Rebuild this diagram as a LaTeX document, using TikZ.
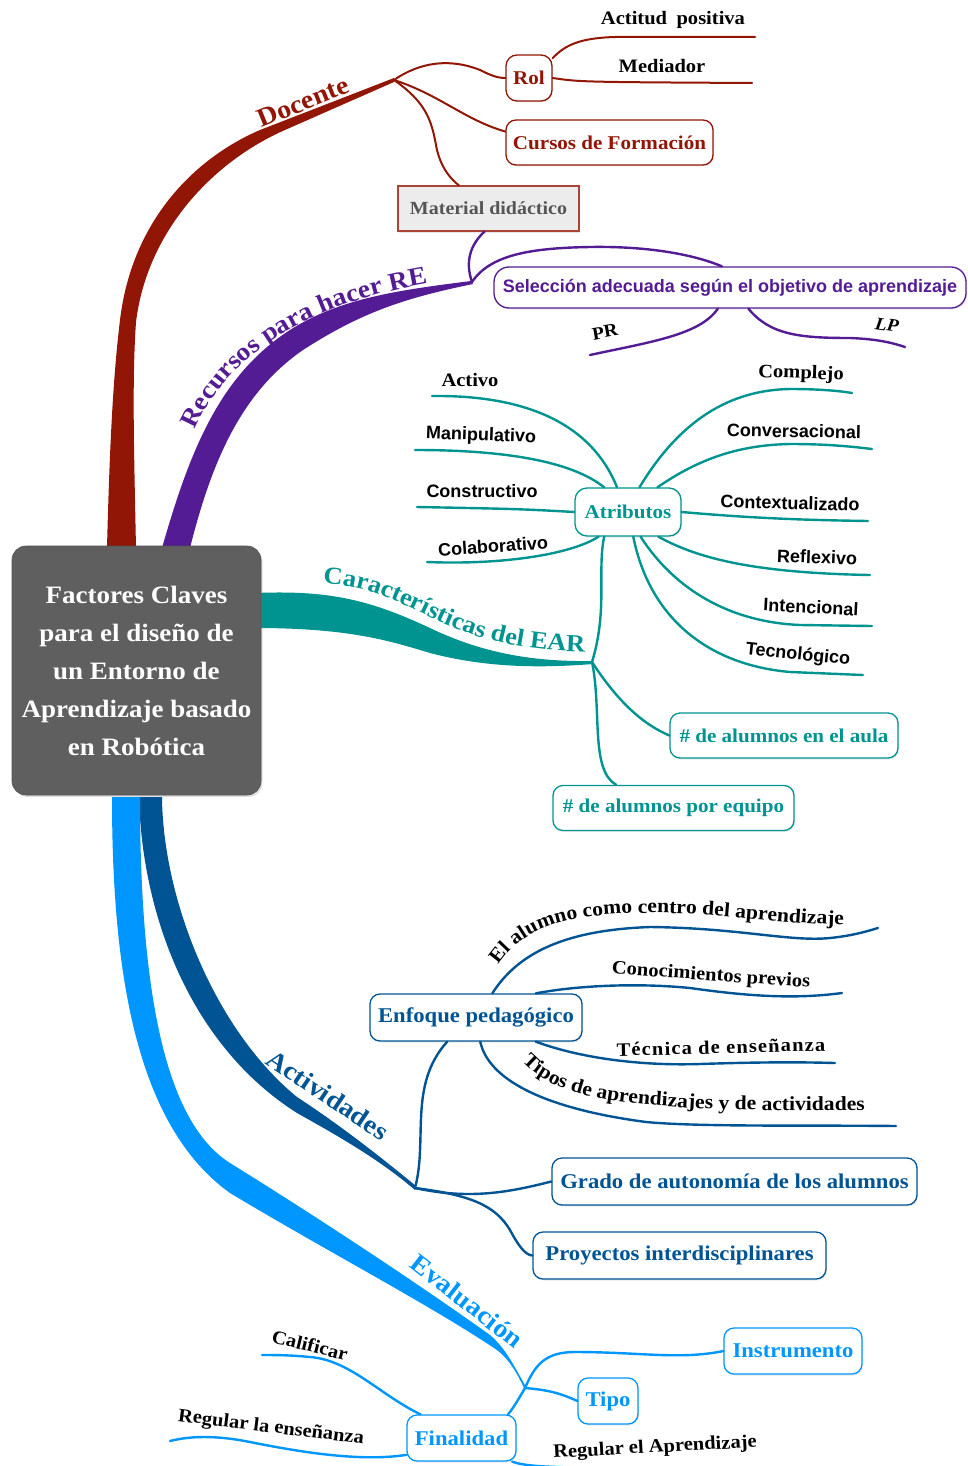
\documentclass[tikz,border=0pt]{standalone}
\usepackage{fontspec}
\newfontfamily\cf{Liberation Serif}[FakeStretch=1.08]
\newfontfamily\hv{Liberation Sans}
\usetikzlibrary{decorations.text,shadows}
\pgfdeclarelayer{bands}
\pgfsetlayers{bands,main}

\definecolor{docred}{RGB}{146,22,6}
\definecolor{recpur}{RGB}{84,28,148}
\definecolor{teal1}{RGB}{0,148,144}
\definecolor{actblue}{RGB}{0,84,148}
\definecolor{evblue}{RGB}{0,150,255}
\definecolor{rootgray}{RGB}{95,95,95}
\definecolor{matgray}{RGB}{236,236,236}
\definecolor{mattext}{RGB}{85,85,85}

\newcommand{\serifsz}[1]{\cf\bfseries\fontsize{#1}{#1}\selectfont}
\newcommand{\sanssz}[1]{\hv\bfseries\fontsize{#1}{#1}\selectfont}

\tikzset{
  nbox/.style={draw=#1, text=#1, fill=white, rounded corners=10pt, line width=1.3pt,
    inner sep=0pt, font={\serifsz{19.5}},
    drop shadow={opacity=0.18, shadow xshift=1pt, shadow yshift=-1.5pt}},
  leaf/.style={inner sep=0pt, text=black, font={\serifsz{19}}},
  sleaf/.style={inner sep=0pt, text=black, font={\sanssz{18}}},
  branchlabel/.style={inner sep=0pt, text=#1, font={\serifsz{26}}},
  twig/.style={draw=#1, line width=2.4pt, line cap=round},
}

\begin{document}
\begin{tikzpicture}[x=1pt, y=-1pt]
\useasboundingbox (0,0) rectangle (968,1466);

% ---------- central topic ----------
\node[fill=rootgray, draw=rootgray!85!black, line width=0.6pt, rounded corners=14pt,
      minimum width=249pt, minimum height=249pt, inner sep=0pt, align=center,
      text=white, font={\cf\bfseries\fontsize{25}{38}\selectfont},
      drop shadow={opacity=0.25, shadow xshift=1.5pt, shadow yshift=-2pt}]
  (root) at (136.5,670.5)
  {Factores Claves\\para el diseño de\\un Entorno de\\Aprendizaje basado\\en Robótica};

% ---------- main tapered branches ----------
\begin{pgfonlayer}{bands}
  % Docente
  \fill[docred] (107,548) .. controls (110,430) and (114,370) .. (120,320)
     .. controls (132,220) and (195,158) .. (260,130)
     -- (394,78) -- (394,82) -- (285,130) .. controls (212,162) and (147,232) .. (136,322)
     .. controls (132,380) and (134,450) .. (136,548) -- cycle;
  % Recursos para hacer RE
  \fill[recpur] (162,548) .. controls (190,450) and (220,375) .. (290,330)
     .. controls (340,298) and (400,290) .. (471,281) -- (473,284)
     .. controls (405,298) and (362,312) .. (303,350)
     .. controls (242,392) and (212,460) .. (190,548) -- cycle;
  % Caracteristicas del EAR
  \fill[teal1] (255,593) .. controls (330,590) and (370,600) .. (430,628)
     .. controls (480,652) and (530,662) .. (593,661) -- (593,664)
     .. controls (530,669) and (480,666) .. (430,653)
     .. controls (390,641) and (350,628) .. (255,628) -- cycle;
  % Actividades
  \fill[actblue] (139,797) .. controls (142,915) and (190,1045) .. (297,1113)
     .. controls (340,1137) and (380,1160) .. (415,1190) -- (416,1186)
     .. controls (382,1158) and (340,1125) .. (297,1097)
     .. controls (215,1030) and (163,900) .. (162,797) -- cycle;
  % Evaluacion
  \fill[evblue] (112,797) .. controls (112,970) and (135,1125) .. (230,1193)
     .. controls (330,1253) and (430,1305) .. (497,1350)
     .. controls (510,1360) and (518,1375) .. (525,1390) -- (526,1387)
     .. controls (512,1362) and (505,1348) .. (490,1335)
     .. controls (430,1292) and (330,1225) .. (230,1163)
     .. controls (170,1125) and (140,1010) .. (140,797) -- cycle;
\end{pgfonlayer}

% ---------- branch labels ----------
\node[branchlabel=docred, rotate=22] (docl) at (303,102) {Docente};
\path[decorate, decoration={text along path, text color=recpur,
      text={|\serifsz{25.5}|Recursos para hacer RE}}]
  (195,430) .. controls (225,360) and (300,305) .. (430,283);
\path[decorate, decoration={text along path, text color=teal1,
      text={|\serifsz{24.5}|Características del EAR}}]
  (323,584) .. controls (360,585) and (385,595) .. (430,617)
  .. controls (480,642) and (530,652) .. (595,652);
\node[branchlabel=actblue, rotate=-34] (actl) at (328,1095) {Actividades};
\node[branchlabel=evblue, rotate=-38] (eval) at (467,1301) {Evaluación};

% ---------- fork points ----------
\coordinate (docfork) at (394,80);
\coordinate (recfork) at (472,282);
\coordinate (earfork) at (592,662);
\coordinate (actfork) at (415,1188);
\coordinate (evafork) at (525,1388);

% ---------- Docente ----------
\node[nbox=docred, minimum width=46pt, minimum height=46pt, rounded corners=11pt] (rol) at (529,78) {Rol};
\node[nbox=docred, minimum width=207pt, minimum height=45pt] (cursos) at (609.5,142.5) {Cursos de Formación};
\node[draw=docred!80, fill=matgray, text=mattext, line width=1.3pt, inner sep=0pt,
      minimum width=181pt, minimum height=45pt, font={\serifsz{18.5}},
      drop shadow={opacity=0.18, shadow xshift=1pt, shadow yshift=-1.5pt}]
  (material) at (488.5,208.5) {Material didáctico};
\node[leaf] (actitud) at (673,20) {Actitud\hspace{0.5em}positiva};
\node[leaf] (mediador) at (662,66) {Mediador};
\coordinate (actitudEnd) at (755,37);
\coordinate (mediadorEnd) at (752,83);

\draw[twig=docred, line width=2pt] (docfork) .. controls (420,62) and (450,58) .. (480,70)
   .. controls (490,75) and (497,78) .. (rol.west);
\draw[twig=docred, line width=2pt] (docfork) .. controls (440,95) and (465,120) .. (cursos.174);
\draw[twig=docred, line width=2pt] (docfork) .. controls (430,105) and (432,125) .. (437,150)
   .. controls (442,170) and (452,180) .. (material.142);
\draw[twig=docred, line width=2pt] (rol.40) .. controls (565,45) and (580,38) .. (615,37) -- (actitudEnd);
\draw[twig=docred, line width=2pt] (rol.east) .. controls (580,82) .. (mediadorEnd);

% ---------- Recursos ----------
\node[nbox=recpur, minimum width=472pt, minimum height=41pt, rounded corners=15pt,
      font={\sanssz{18}}] (sel) at (730,287.5) {Selección adecuada según el objetivo de aprendizaje};
\node[inner sep=0pt, font={\serifsz{18}}, rotate=10] (pr) at (605,332) {PR};
\node[inner sep=0pt, font={\serifsz{18}\itshape}, rotate=-8] (lp) at (887,325) {LP};
\coordinate (prEnd) at (590,355);
\coordinate (lpEnd) at (905,347);

\draw[twig=recpur] (recfork) .. controls (465,262) and (470,245) .. (material.-100);
\draw[twig=recpur] (recfork) .. controls (490,255) and (530,248) .. (590,247)
   .. controls (650,246) and (695,255) .. (sel.111);
\draw[twig=recpur] (sel.-120) .. controls (700,335) and (650,342) .. (prEnd);
\draw[twig=recpur] (sel.-49) .. controls (770,335) and (800,338) .. (850,338)
   .. controls (875,339) and (890,342) .. (lpEnd);

% ---------- Caracteristicas del EAR ----------
\node[nbox=teal1, minimum width=106pt, minimum height=48pt, rounded corners=12pt] (attr) at (628,512) {Atributos};
\node[nbox=teal1, minimum width=228pt, minimum height=45pt] (aula) at (784,735.5) {\# de alumnos en el aula};
\node[nbox=teal1, minimum width=241pt, minimum height=45pt] (equipo) at (673.5,808) {\# de alumnos por equipo};

\node[leaf] (activo) at (470,380) {Activo};
\node[sleaf, rotate=-2] (manip) at (481,436) {Manipulativo};
\node[sleaf] (constr) at (482,491) {Constructivo};
\node[sleaf, rotate=4] (colab) at (493,546) {Colaborativo};
\node[leaf, rotate=-2] (complejo) at (801,374) {Complejo};
\node[sleaf, rotate=-1] (conver) at (794,431) {Conversacional};
\node[sleaf, rotate=-1.5] (contex) at (790,503) {Contextualizado};
\node[sleaf, rotate=-2] (reflex) at (817,557) {Reflexivo};
\node[sleaf, rotate=-3] (inten) at (811,607) {Intencional};
\node[sleaf, rotate=-6] (tecno) at (798,655) {Tecnológico};

\coordinate (activoEnd) at (432,396);
\coordinate (manipEnd) at (415,450);
\coordinate (constrEnd) at (417,507);
\coordinate (colabEnd) at (427,562);
\coordinate (complejoEnd) at (852,393);
\coordinate (converEnd) at (872,449);
\coordinate (contexEnd) at (868,521);
\coordinate (reflexEnd) at (870,575);
\coordinate (intenEnd) at (872,626);
\coordinate (tecnoEnd) at (863,675);

\draw[twig=teal1] (earfork) .. controls (608,610) and (597,570) .. (attr.-134);
\draw[twig=teal1] (attr.114) .. controls (590,420) and (520,395) .. (activoEnd);
\draw[twig=teal1] (attr.134) .. controls (570,460) and (500,450) .. (manipEnd);
\draw[twig=teal1] (attr.west) .. controls (520,509) .. (constrEnd);
\draw[twig=teal1] (attr.-140) .. controls (570,555) and (500,565) .. (colabEnd);
\draw[twig=teal1] (attr.65) .. controls (680,420) and (730,390) .. (790,389)
   .. controls (820,389) and (840,391) .. (complejoEnd);
\draw[twig=teal1] (attr.40) .. controls (700,458) and (740,445) .. (790,444)
   .. controls (830,444) and (855,447) .. (converEnd);
\draw[twig=teal1] (attr.east) .. controls (750,518) and (800,520) .. (contexEnd);
\draw[twig=teal1] (attr.-39) .. controls (700,560) and (760,573) .. (reflexEnd);
\draw[twig=teal1] (attr.-63) .. controls (675,590) and (730,622) .. (800,625) -- (intenEnd);
\draw[twig=teal1] (attr.-78) .. controls (650,620) and (710,665) .. (790,672) -- (tecnoEnd);
\draw[twig=teal1] (earfork) .. controls (620,705) and (645,725) .. (aula.west);
\draw[twig=teal1] (earfork) .. controls (602,710) and (590,770) .. (equipo.158);

% ---------- Actividades ----------
\node[nbox=actblue, minimum width=212pt, minimum height=47pt, font={\serifsz{21}}] (enfoque) at (476,1017.5) {Enfoque pedagógico};
\node[nbox=actblue, minimum width=365pt, minimum height=47pt, font={\serifsz{21}}] (grado) at (734.5,1181.5) {Grado de autonomía de los alumnos};
\node[nbox=actblue, minimum width=293pt, minimum height=47pt, font={\serifsz{21}}] (proy) at (679.5,1255.5) {Proyectos interdisciplinares};

\coordinate (alumnoEnd) at (878,928);
\coordinate (conoEnd) at (842,993);
\coordinate (tecEnd) at (835,1063);
\coordinate (tiposEnd) at (896,1126);

\draw[twig=actblue] (actfork) .. controls (428,1140) and (408,1085) .. (enfoque.-140);
\draw[twig=actblue] (actfork) .. controls (470,1200) and (510,1192) .. (grado.west);
\draw[twig=actblue] (actfork) .. controls (470,1195) and (495,1205) .. (510,1230)
   .. controls (518,1245) and (525,1255) .. (proy.west);
\draw[twig=actblue] (enfoque.56) .. controls (520,950) and (570,930) .. (650,927)
   .. controls (740,928) and (790,942) .. (830,938) .. controls (850,936) and (865,932) .. (alumnoEnd);
\draw[twig=actblue] (enfoque.22) .. controls (580,985) and (640,983) .. (690,988)
   .. controls (740,995) and (790,1000) .. (conoEnd);
\draw[twig=actblue] (enfoque.-22) .. controls (580,1058) and (640,1066) .. (700,1064)
   .. controls (760,1062) and (800,1062) .. (tecEnd);
\draw[twig=actblue] (enfoque.-80) .. controls (488,1078) and (540,1108) .. (646,1122)
   .. controls (700,1127) and (800,1125) .. (tiposEnd);

\path[decorate, decoration={text along path,
      text={|\serifsz{20}|El alumno como centro del aprendizaje}}]
  (498,965) .. controls (525,925) and (570,915) .. (640,913)
  .. controls (720,912) and (780,925) .. (858,925);
\node[leaf, rotate=-4] (cono) at (711,976) {Conocimientos previos};
\node[leaf, rotate=1.5] (tecn) at (721,1047) {\addfontfeature{LetterSpace=6}Técnica de enseñanza};
\path[decorate, decoration={text along path,
      text={|\serifsz{20}|Tipos de aprendizajes y de actividades}}]
  (522,1061) .. controls (547,1088) and (582,1099) .. (650,1105)
  .. controls (720,1111) and (800,1111) .. (895,1110);

% ---------- Evaluacion ----------
\node[nbox=evblue, minimum width=138pt, minimum height=46pt, font={\serifsz{21}}] (instr) at (793,1351) {Instrumento};
\node[nbox=evblue, minimum width=60pt, minimum height=46pt, font={\serifsz{21}}] (tipo) at (608,1401) {Tipo};
\node[nbox=evblue, minimum width=109pt, minimum height=46pt, font={\serifsz{21}}] (fin) at (461.5,1438) {Finalidad};

\node[leaf, rotate=-14] (calif) at (310,1345) {Calificar};
\node[leaf, rotate=-7] (regens) at (271,1428) {Regular la enseñanza};
\node[leaf, rotate=3] (regapr) at (655,1448) {Regular el Aprendizaje};

\coordinate (califEnd) at (262,1355);
\coordinate (regensEnd) at (170,1441);
\coordinate (regaprEnd) at (770,1468);

\draw[twig=evblue] (evafork) .. controls (535,1365) and (545,1352) .. (575,1352)
   .. controls (640,1352) and (680,1360) .. (instr.west);
\draw[twig=evblue] (evafork) .. controls (550,1390) and (562,1394) .. (tipo.west);
\draw[twig=evblue] (evafork) .. controls (518,1400) and (512,1410) .. (fin.27);
\draw[twig=evblue] (fin.150) .. controls (380,1395) and (350,1360) .. (310,1357)
   .. controls (290,1355) and (275,1355) .. (califEnd);
\draw[twig=evblue] (fin.197) .. controls (360,1462) and (300,1452) .. (250,1442)
   .. controls (215,1435) and (190,1436) .. (regensEnd);
\draw[twig=evblue] (fin.-25) .. controls (535,1470) and (600,1467) .. (regaprEnd);

\end{tikzpicture}
\end{document}
